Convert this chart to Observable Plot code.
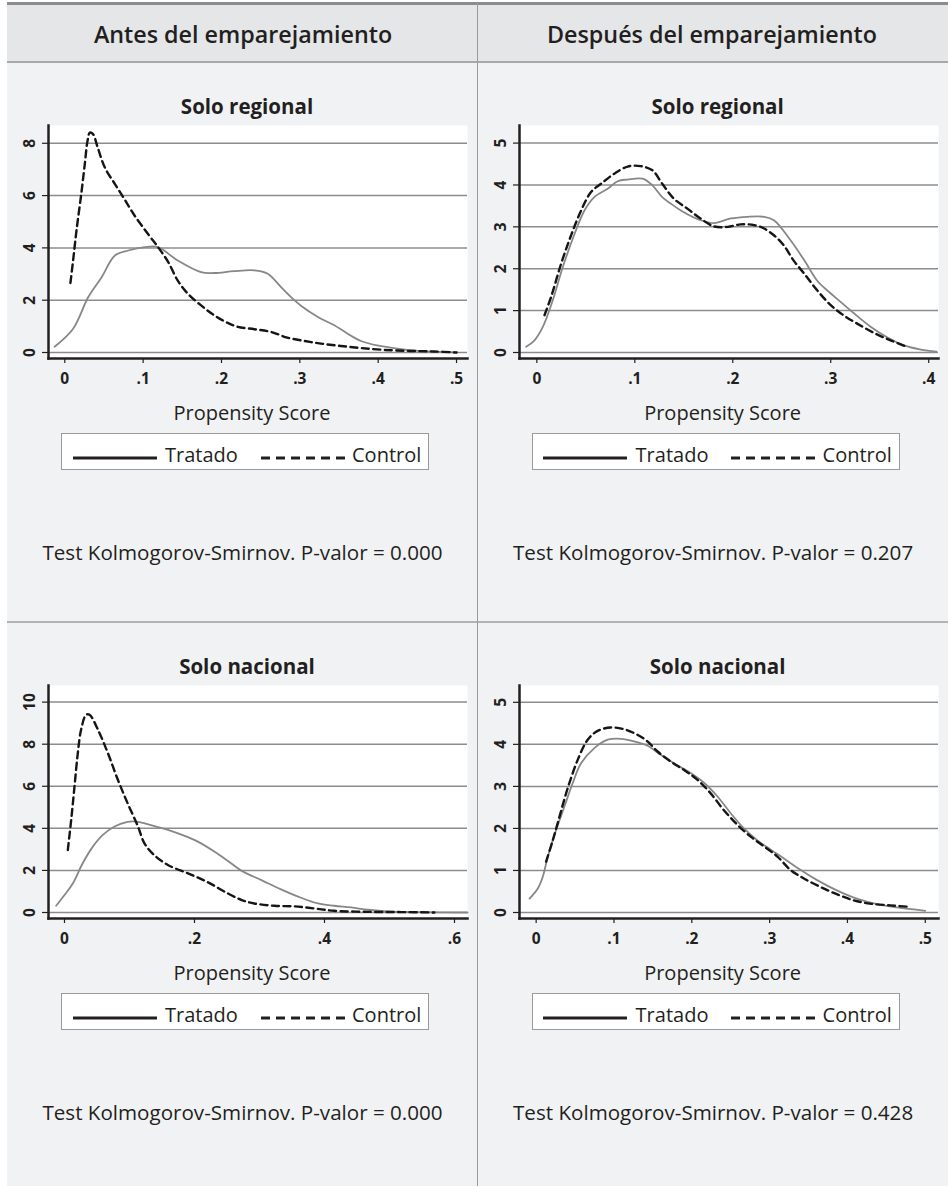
<!DOCTYPE html>
<html><head><meta charset="utf-8">
<script src="https://cdn.jsdelivr.net/npm/d3@7"></script>
<script src="https://cdn.jsdelivr.net/npm/@observablehq/plot@0.6"></script>
<style>
body{margin:0;background:#fff;font-family:"Open Sans",sans-serif;color:#231f20;}
#root{position:relative;width:948px;height:1186px;overflow:hidden;background:#fff;}
#root > *{position:absolute;}
.t{white-space:nowrap;line-height:1;}
</style></head><body><div id="root"></div><script>
// ---------- data ----------
const columnTitles = ["Antes del emparejamiento", "Después del emparejamiento"];
const rowTitles = ["Solo regional", "Solo nacional"];
const axisLabel = "Propensity Score";
const legendLabels = ["Tratado", "Control"];
const ksPValues = ["0.000", "0.207", "0.000", "0.428"];

const xTicksAR = [0, 0.1, 0.2, 0.3, 0.4, 0.5];
const yTicksAR = [0, 2, 4, 6, 8];
const xTicksDR = [0, 0.1, 0.2, 0.3, 0.4];
const yTicksDR = [0, 1, 2, 3, 4, 5];
const xTicksAN = [0, 0.2, 0.4, 0.6];
const yTicksAN = [0, 2, 4, 6, 8, 10];
const xTicksDN = [0, 0.1, 0.2, 0.3, 0.4, 0.5];
const yTicksDN = [0, 1, 2, 3, 4, 5];

// [propensity score, density]
const antesRegionalTratado = [[-0.013,0.22],[0.0106,0.91],[0.030,2.12],[0.047,2.88],[0.064,3.71],[0.081,3.90],[0.102,4.03],[0.119,4.03],[0.144,3.52],[0.174,3.07],[0.191,3.04],[0.216,3.11],[0.242,3.14],[0.259,3.01],[0.276,2.50],[0.293,2.0],[0.301,1.80],[0.323,1.36],[0.344,1.04],[0.361,0.72],[0.378,0.44],[0.399,0.27],[0.42,0.17],[0.441,0.09],[0.463,0.04],[0.50,0.0]];
const antesRegionalControl = [[0.0072,2.66],[0.0106,3.52],[0.0149,4.66],[0.021,6.06],[0.0255,7.2],[0.029,8.09],[0.032,8.41],[0.036,8.35],[0.042,7.84],[0.051,7.08],[0.064,6.44],[0.076,5.87],[0.089,5.24],[0.106,4.54],[0.119,4.03],[0.132,3.46],[0.144,2.76],[0.157,2.25],[0.174,1.80],[0.191,1.42],[0.208,1.13],[0.221,0.98],[0.242,0.89],[0.263,0.79],[0.284,0.57],[0.306,0.44],[0.327,0.34],[0.352,0.25],[0.378,0.17],[0.407,0.10],[0.441,0.06],[0.471,0.04],[0.50,0.0]];

const despuesRegionalTratado = [[-0.0109,0.135],[-0.0024,0.29],[0.0061,0.61],[0.0163,1.25],[0.0265,2.04],[0.038,2.80],[0.0486,3.39],[0.0587,3.71],[0.0723,3.91],[0.0825,4.09],[0.0927,4.13],[0.108,4.15],[0.118,3.99],[0.128,3.71],[0.137,3.55],[0.150,3.35],[0.167,3.16],[0.181,3.09],[0.198,3.20],[0.215,3.24],[0.232,3.24],[0.242,3.16],[0.259,2.68],[0.273,2.20],[0.286,1.72],[0.298,1.45],[0.310,1.21],[0.324,0.93],[0.341,0.61],[0.358,0.36],[0.375,0.17],[0.392,0.07],[0.408,0.02]];
const despuesRegionalControl = [[0.0078,0.89],[0.0146,1.33],[0.0248,2.12],[0.035,2.80],[0.0452,3.39],[0.0553,3.83],[0.0655,4.03],[0.0791,4.27],[0.0927,4.44],[0.106,4.45],[0.118,4.35],[0.128,4.03],[0.140,3.67],[0.154,3.43],[0.167,3.20],[0.181,3.01],[0.195,3.00],[0.208,3.06],[0.222,3.04],[0.232,2.96],[0.242,2.80],[0.252,2.56],[0.262,2.20],[0.273,1.88],[0.286,1.49],[0.300,1.13],[0.313,0.89],[0.327,0.69],[0.344,0.47],[0.361,0.29],[0.378,0.135]];

const antesNacionalTratado = [[-0.0128,0.32],[0.0,0.83],[0.0128,1.38],[0.028,2.34],[0.0436,3.13],[0.059,3.69],[0.077,4.09],[0.097,4.31],[0.113,4.31],[0.133,4.15],[0.159,3.93],[0.185,3.64],[0.205,3.37],[0.231,2.89],[0.251,2.46],[0.272,1.99],[0.303,1.54],[0.333,1.10],[0.364,0.70],[0.39,0.43],[0.415,0.32],[0.441,0.24],[0.467,0.13],[0.497,0.05],[0.544,0.02],[0.62,0.0]];
const antesNacionalControl = [[0.0051,2.97],[0.0103,4.40],[0.0154,5.99],[0.0205,7.58],[0.0256,8.70],[0.0333,9.40],[0.0385,9.40],[0.0513,8.70],[0.0667,7.58],[0.0821,6.31],[0.097,5.20],[0.113,4.09],[0.123,3.29],[0.138,2.73],[0.159,2.26],[0.190,1.86],[0.221,1.43],[0.251,0.91],[0.272,0.60],[0.292,0.43],[0.323,0.32],[0.354,0.29],[0.385,0.19],[0.415,0.08],[0.467,0.03],[0.518,0.02],[0.569,0.0]];

const despuesNacionalTratado = [[-0.0085,0.33],[0.0021,0.57],[0.0085,0.85],[0.015,1.33],[0.0256,1.96],[0.0363,2.52],[0.047,3.08],[0.0577,3.55],[0.0748,3.91],[0.0919,4.11],[0.109,4.13],[0.126,4.07],[0.143,3.97],[0.160,3.75],[0.177,3.55],[0.199,3.31],[0.216,3.08],[0.233,2.76],[0.25,2.36],[0.267,2.00],[0.284,1.72],[0.301,1.50],[0.318,1.29],[0.340,1.01],[0.361,0.77],[0.387,0.52],[0.412,0.33],[0.438,0.20],[0.464,0.12],[0.50,0.04]];
const despuesNacionalControl = [[0.0128,1.21],[0.0214,1.72],[0.030,2.28],[0.0406,2.96],[0.0534,3.63],[0.0662,4.11],[0.079,4.32],[0.096,4.40],[0.113,4.36],[0.130,4.23],[0.143,4.07],[0.156,3.83],[0.173,3.59],[0.190,3.39],[0.207,3.16],[0.224,2.84],[0.241,2.44],[0.259,2.08],[0.276,1.80],[0.293,1.57],[0.310,1.33],[0.327,1.01],[0.344,0.81],[0.365,0.61],[0.387,0.43],[0.408,0.29],[0.429,0.21],[0.455,0.17],[0.476,0.14]];

// ---------- layout helpers ----------
const root = document.getElementById("root");
function box(style) { const d = document.createElement("div"); Object.assign(d.style, style); root.appendChild(d); return d; }
function text(str, cx, cy, size, weight, anchor = "middle", parent = root) {
  const d = document.createElement("div");
  d.className = "t";
  d.textContent = str;
  Object.assign(d.style, {position: "absolute", left: cx + "px", top: cy + "px", fontSize: size + "px", fontWeight: weight,
    transform: anchor === "middle" ? "translate(-50%,-50%)" : "translate(0,-50%)"});
  parent.appendChild(d);
  return d;
}

// background
box({left: "7px", top: "3px", width: "941px", height: "1183px", background: "#f1f2f4"});
box({left: "7px", top: "4px", width: "941px", height: "58px", background: "#e5e6e8"});
box({left: "7px", top: "2px", width: "941px", height: "3px", background: "#8c8c8c"});
box({left: "7px", top: "61px", width: "941px", height: "2px", background: "#a9a9a9"});
box({left: "7px", top: "621px", width: "941px", height: "2px", background: "#b3b3b3"});
box({left: "477px", top: "3px", width: "1px", height: "1183px", background: "#9a9a9a"});

text(columnTitles[0], 243, 35, 23.3, 600);
text(columnTitles[1], 712, 35, 23.3, 600);

const fmt = d => d === 0 ? "0" : d3.format(".1f")(d).replace(/^0/, "");

function panel({tratado, control, xDomain, yTop, xTicks, yTicks}) {
  return Plot.plot({
    width: 477, height: 280,
    marginLeft: 48, marginRight: 10, marginTop: 10, marginBottom: 37,
    style: {background: "transparent", fontFamily: "Open Sans", fontSize: "15px", overflow: "visible", color: "#231f20"},
    x: {domain: xDomain},
    y: {domain: [0, yTop], insetBottom: 6},
    marks: [
      Plot.frame({fill: "white", stroke: null}),
      Plot.gridY(yTicks, {stroke: "#8c8c8c", strokeOpacity: 1, strokeWidth: 1.5}),
      Plot.line(tratado, {x: d => d[0], y: d => d[1], curve: "catmull-rom", stroke: "#878787", strokeWidth: 1.8}),
      Plot.line(control, {x: d => d[0], y: d => d[1], curve: "catmull-rom", stroke: "#151515", strokeWidth: 2.4, strokeDasharray: "7,4.5"}),
      Plot.axisX(xTicks, {tickSize: 5, tickPadding: 9, tickFormat: fmt, fontSize: 15.5, fontWeight: "bold", fontVariant: "normal", label: null, stroke: "#231f20", strokeWidth: 1.2}),
      Plot.axisY(yTicks, {tickSize: 6, tickRotate: -90, tickPadding: 8, fontSize: 15.5, fontWeight: "bold", fontVariant: "normal", label: null, stroke: "#231f20", strokeWidth: 1.2}),
      Plot.frame({anchor: "left", stroke: "#231f20", strokeWidth: 2.5}),
      Plot.frame({anchor: "bottom", stroke: "#231f20", strokeWidth: 2.5})
    ]
  });
}

const panels = [
  {col: 0, row: 0, tratado: antesRegionalTratado, control: antesRegionalControl, xDomain: [-0.0208, 0.514], yTop: 8.68, xTicks: xTicksAR, yTicks: yTicksAR, p: ksPValues[0]},
  {col: 1, row: 0, tratado: despuesRegionalTratado, control: despuesRegionalControl, xDomain: [-0.0177, 0.410], yTop: 5.42, xTicks: xTicksDR, yTicks: yTicksDR, p: ksPValues[1]},
  {col: 0, row: 1, tratado: antesNacionalTratado, control: antesNacionalControl, xDomain: [-0.0246, 0.620], yTop: 10.79, xTicks: xTicksAN, yTicks: yTicksAN, p: ksPValues[2]},
  {col: 1, row: 1, tratado: despuesNacionalTratado, control: despuesNacionalControl, xDomain: [-0.0214, 0.517], yTop: 5.40, xTicks: xTicksDN, yTicks: yTicksDN, p: ksPValues[3]}
];

for (const p of panels) {
  const ox = p.col * 470.6, oy = p.row * 560;
  text(rowTitles[p.row], 247 + ox, 106 + oy, 20.5, 700);
  const svg = panel(p);
  svg.style.position = "absolute";
  svg.style.left = (0 + ox) + "px";
  svg.style.top = (115 + oy) + "px";
  root.appendChild(svg);
  text(axisLabel, 252 + ox, 413 + oy, 20, 400);
  // legend
  const lg = box({left: (61 + ox) + "px", top: (433 + oy) + "px", width: "368px", height: "37px", background: "#fff", border: "1.5px solid #9a9a9a", boxSizing: "border-box"});
  const ns = "http://www.w3.org/2000/svg";
  const ls = document.createElementNS(ns, "svg");
  ls.setAttribute("width", 368); ls.setAttribute("height", 37);
  ls.style.position = "absolute"; ls.style.left = "-1.5px"; ls.style.top = "-1.5px";
  const mk = (x1, x2, dash) => { const l = document.createElementNS(ns, "line"); l.setAttribute("x1", x1); l.setAttribute("x2", x2); l.setAttribute("y1", 25); l.setAttribute("y2", 25); l.setAttribute("stroke", "#231f20"); l.setAttribute("stroke-width", 3); if (dash) l.setAttribute("stroke-dasharray", dash); ls.appendChild(l); };
  mk(12, 96, null);
  mk(200, 284, "9,6");
  lg.appendChild(ls);
  text(legendLabels[0], 103, 20.5, 20, 400, "start", lg);
  text(legendLabels[1], 290, 20.5, 20, 400, "start", lg);
  text("Test Kolmogorov-Smirnov. P-valor = " + p.p, 242.5 + ox, 552 + oy, 20.6, 400);
}
</script></body></html>
